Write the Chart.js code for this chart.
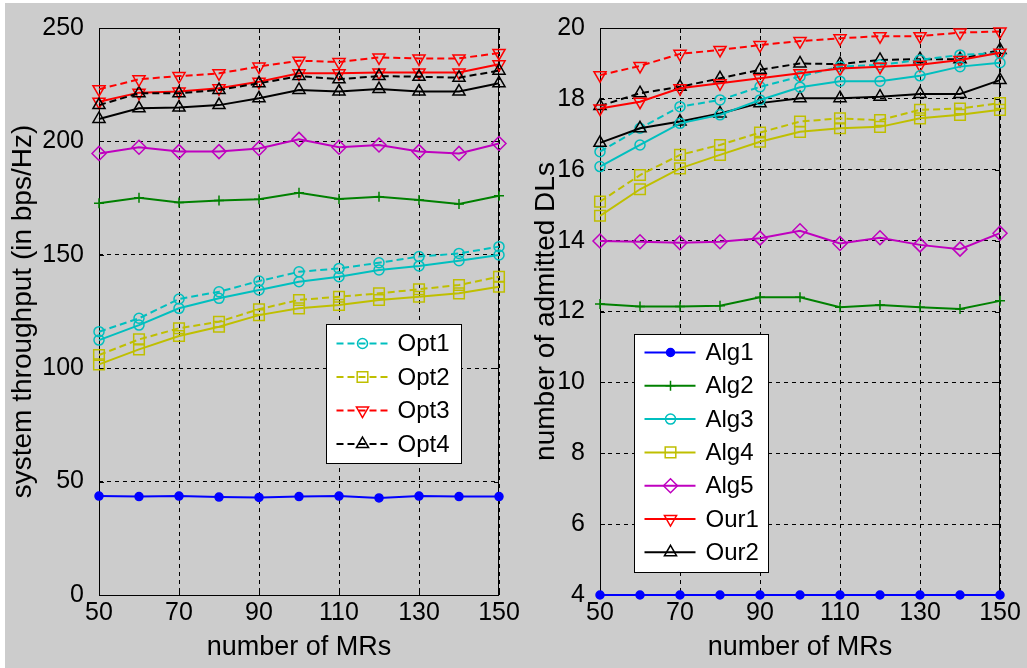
<!DOCTYPE html>
<html>
<head>
<meta charset="utf-8">
<script src="https://cdn.jsdelivr.net/npm/chart.js@4.4.1/dist/chart.umd.min.js"></script>
<style>
  html, body { margin: 0; padding: 0; background: #fff; overflow: hidden; }
  #fig { position: absolute; left: 5px; top: 3px; width: 1022px; height: 665px; background: #cccccc; }
  .panel { position: absolute; top: 0; height: 668px; }
</style>
</head>
<body>
<div id="fig"></div>
<div class="panel" style="left:0;width:540px"><canvas id="thrChart" width="540" height="668"></canvas></div>
<div class="panel" style="left:513px;width:514px"><canvas id="dlChart" width="514" height="668"></canvas></div>
<script>
// x values (number of MRs)
const mrs = [50, 60, 70, 80, 90, 100, 110, 120, 130, 140, 150];

// left panel: system throughput (bps/Hz)
const thrAlg1 = [43.6, 43.4, 43.6, 43.2, 43.0, 43.4, 43.6, 42.8, 43.6, 43.4, 43.4];
const thrAlg2 = [172.7, 175.2, 173.1, 173.9, 174.5, 177.4, 174.6, 175.6, 174.2, 172.4, 176.0];
const thrAlg3 = [112.4, 119.0, 126.4, 130.8, 134.5, 138.1, 140.3, 143.3, 145.1, 147.4, 149.9];
const thrAlg4 = [101.7, 108.3, 114.2, 118.3, 123.4, 126.4, 127.9, 130.1, 131.5, 133.0, 135.9];
const thrAlg5 = [194.7, 197.4, 195.5, 195.5, 196.9, 200.9, 197.4, 198.4, 195.5, 194.7, 199.1];
const thrOur1 = [217.5, 221.5, 222.0, 223.4, 226.3, 230.0, 230.0, 230.4, 230.4, 230.4, 234.0];
const thrOur2 = [209.9, 214.6, 214.9, 216.0, 219.0, 222.7, 222.0, 223.1, 222.0, 222.0, 225.6];
const thrOpt1 = [116.1, 122.0, 130.5, 133.7, 138.4, 142.5, 144.0, 146.5, 149.2, 150.6, 153.6];
const thrOpt2 = [105.8, 112.7, 117.6, 120.5, 126.0, 130.1, 131.5, 133.0, 134.8, 136.7, 140.3];
const thrOpt3 = [223.0, 227.4, 228.8, 230.0, 233.0, 235.6, 235.0, 237.0, 236.6, 236.6, 239.0];
const thrOpt4 = [216.0, 221.2, 221.2, 222.7, 225.6, 228.8, 227.4, 228.8, 228.5, 228.1, 231.2];

// right panel: number of admitted DLs
const dlAlg1 = [4, 4, 4, 4, 4, 4, 4, 4, 4, 4, 4];
const dlAlg2 = [12.21, 12.14, 12.14, 12.16, 12.40, 12.40, 12.12, 12.18, 12.12, 12.07, 12.30];
const dlAlg3 = [16.09, 16.70, 17.31, 17.55, 17.97, 18.33, 18.50, 18.50, 18.65, 18.91, 19.02];
const dlAlg4 = [14.70, 15.45, 16.04, 16.42, 16.79, 17.07, 17.17, 17.21, 17.45, 17.55, 17.69];
const dlAlg5 = [13.99, 13.97, 13.94, 13.97, 14.07, 14.28, 13.92, 14.08, 13.88, 13.76, 14.21];
const dlOur1 = [17.73, 17.92, 18.30, 18.44, 18.58, 18.72, 18.86, 18.91, 18.96, 19.10, 19.30];
const dlOur2 = [16.76, 17.17, 17.36, 17.59, 17.88, 18.02, 18.02, 18.06, 18.14, 18.14, 18.53];
const dlOpt1 = [16.51, 17.17, 17.78, 17.97, 18.34, 18.63, 18.91, 18.96, 19.10, 19.24, 19.29];
const dlOpt2 = [15.10, 15.85, 16.42, 16.70, 17.05, 17.36, 17.45, 17.40, 17.69, 17.73, 17.88];
const dlOpt3 = [18.67, 18.93, 19.27, 19.38, 19.52, 19.63, 19.71, 19.77, 19.77, 19.87, 19.90];
const dlOpt4 = [17.80, 18.16, 18.34, 18.58, 18.82, 19.00, 18.98, 19.10, 19.12, 19.12, 19.38];

// tick labels
const thrTicks = [0, 50, 100, 150, 200, 250];
const dlTicks = [4, 6, 8, 10, 12, 14, 16, 18, 20];
const mrTicks = [50, 70, 90, 110, 130, 150];

const legendLeft = ['Opt1', 'Opt2', 'Opt3', 'Opt4'];
const legendRight = ['Alg1', 'Alg2', 'Alg3', 'Alg4', 'Alg5', 'Our1', 'Our2'];

const FONT = "'Liberation Sans', Arial, sans-serif";

// matlab-ish line specs
const lineSpecs = {
  Alg1: { color: '#0000ff', point: 'circle', r: 4, fill: true },
  Alg2: { color: '#008000', point: 'cross', r: 5 },
  Alg3: { color: '#00bfbf', point: 'circle', r: 5 },
  Alg4: { color: '#bfbf00', point: 'rect', r: 7.5 },
  Alg5: { color: '#bf00bf', point: 'rectRot', r: 7 },
  Our1: { color: '#ff0000', point: 'triangle', r: 7, rot: 180 },
  Our2: { color: '#000000', point: 'triangle', r: 7 },
  Opt1: { color: '#00bfbf', point: 'circle', r: 5, dash: true },
  Opt2: { color: '#bfbf00', point: 'rect', r: 7.5, dash: true },
  Opt3: { color: '#ff0000', point: 'triangle', r: 7, rot: 180, dash: true },
  Opt4: { color: '#000000', point: 'triangle', r: 7, dash: true }
};

const makeDataset = (name, values) => {
  const s = lineSpecs[name];
  return {
    label: name,
    data: mrs.map((x, i) => ({ x: x, y: values[i] })),
    borderColor: s.color,
    borderWidth: 2,
    borderDash: s.dash ? [7, 4] : [],
    pointStyle: s.point,
    pointRadius: s.r,
    pointRotation: s.rot || 0,
    pointBorderColor: s.color,
    pointBackgroundColor: s.fill ? s.color : 'rgba(0,0,0,0)',
    pointBorderWidth: 1.5,
    tension: 0,
    clip: false
  };
};

// box, inward ticks and in-axes legend like a matlab figure
const matlabAxes = (legendNames, box) => ({
  id: 'matlabAxes',
  beforeDatasetsDraw(chart) {
    const { ctx, chartArea: a } = chart;
    ctx.save();
    ctx.strokeStyle = '#000';
    ctx.lineWidth = 1;
    ctx.setLineDash([]);
    ctx.strokeRect(Math.round(a.left) + 0.5, Math.round(a.top) + 0.5,
      Math.round(a.right - a.left) - 1, Math.round(a.bottom - a.top));
    ctx.beginPath();
    chart.scales.x.ticks.forEach(t => {
      const px = Math.round(chart.scales.x.getPixelForValue(t.value)) + 0.5;
      ctx.moveTo(px, a.bottom); ctx.lineTo(px, a.bottom - 5);
      ctx.moveTo(px, a.top); ctx.lineTo(px, a.top + 5);
    });
    chart.scales.y.ticks.forEach(t => {
      const py = Math.round(chart.scales.y.getPixelForValue(t.value)) + 0.5;
      ctx.moveTo(a.left, py); ctx.lineTo(a.left + 5, py);
      ctx.moveTo(a.right, py); ctx.lineTo(a.right - 5, py);
    });
    ctx.stroke();
    ctx.restore();
  },
  afterDraw(chart) {
    const { ctx, chartArea: a } = chart;
    const x0 = Math.round(a.left + box.dx) + 0.5;
    const y0 = Math.round(a.top + box.dy) + 0.5;
    ctx.save();
    ctx.fillStyle = '#fff';
    ctx.fillRect(x0, y0, box.w, box.h);
    ctx.strokeStyle = '#000';
    ctx.lineWidth = 1;
    ctx.strokeRect(x0, y0, box.w, box.h);
    ctx.font = '24px ' + FONT;
    ctx.textBaseline = 'middle';
    legendNames.forEach((name, i) => {
      const s = lineSpecs[name];
      const y = y0 + box.first + i * box.step;
      ctx.strokeStyle = s.color;
      ctx.lineWidth = 2;
      ctx.setLineDash(s.dash ? [7, 4] : []);
      ctx.beginPath();
      ctx.moveTo(x0 + 10, y);
      ctx.lineTo(x0 + 61, y);
      ctx.stroke();
      ctx.setLineDash([]);
      ctx.lineWidth = 1.5;
      ctx.fillStyle = s.fill ? s.color : 'rgba(0,0,0,0)';
      Chart.helpers.drawPoint(ctx, {
        pointStyle: s.point, rotation: s.rot || 0, radius: s.r, borderWidth: 1.5
      }, x0 + 36, y);
      ctx.fillStyle = '#000';
      ctx.fillText(name, x0 + 71, y + 1);
    });
    ctx.restore();
  }
});

const buildOptions = (yMin, yMax, yStep, yTitle, yBoxWidth, titlePad, padRight) => ({
  responsive: false,
  animation: false,
  layout: { padding: { left: 0, top: 28, right: padRight, bottom: 0 } },
  plugins: { legend: { display: false }, tooltip: { enabled: false } },
  scales: {
    x: {
      type: 'linear',
      min: 50,
      max: 150,
      afterBuildTicks: (scale) => { scale.ticks = mrTicks.map(v => ({ value: v })); },
      ticks: { color: '#000', font: { family: FONT, size: 25 }, padding: 3, maxRotation: 0, autoSkip: false },
      grid: { color: '#000', lineWidth: 1, drawTicks: false },
      border: { display: false, dash: [4, 4] },
      title: { display: true, text: 'number of MRs', color: '#000', font: { family: FONT, size: 27 }, padding: { top: 0, bottom: 4 } },
      afterFit: (scale) => { scale.height = 73; scale.paddingLeft = 0; scale.paddingRight = 0; }
    },
    y: {
      type: 'linear',
      min: yMin,
      max: yMax,
      ticks: { stepSize: yStep, color: '#000', font: { family: FONT, size: 25 }, padding: 15 },
      grid: { color: '#000', lineWidth: 1, drawTicks: false },
      border: { display: false, dash: [4, 4] },
      title: { display: true, text: yTitle, color: '#000', font: { family: FONT, size: 28 }, padding: { top: titlePad, bottom: 0 } },
      afterFit: (scale) => { scale.width = yBoxWidth; scale.paddingTop = 0; scale.paddingBottom = 0; }
    }
  }
});

new Chart(document.getElementById('thrChart'), {
  type: 'line',
  data: {
    datasets: [
      makeDataset('Opt1', thrOpt1), makeDataset('Opt2', thrOpt2),
      makeDataset('Opt3', thrOpt3), makeDataset('Opt4', thrOpt4),
      makeDataset('Alg1', thrAlg1), makeDataset('Alg2', thrAlg2),
      makeDataset('Alg3', thrAlg3), makeDataset('Alg4', thrAlg4),
      makeDataset('Alg5', thrAlg5), makeDataset('Our1', thrOur1),
      makeDataset('Our2', thrOur2)
    ]
  },
  options: buildOptions(thrTicks[0], thrTicks[thrTicks.length - 1], 50, 'system throughput (in bps/Hz)', 99, 6, 41),
  plugins: [matlabAxes(legendLeft, { dx: 227, dy: 296, w: 135, h: 139, first: 19, step: 33.5 })]
});

new Chart(document.getElementById('dlChart'), {
  type: 'line',
  data: {
    datasets: [
      makeDataset('Alg1', dlAlg1), makeDataset('Alg2', dlAlg2),
      makeDataset('Alg3', dlAlg3), makeDataset('Alg4', dlAlg4),
      makeDataset('Alg5', dlAlg5), makeDataset('Our1', dlOur1),
      makeDataset('Our2', dlOur2),
      makeDataset('Opt1', dlOpt1), makeDataset('Opt2', dlOpt2),
      makeDataset('Opt3', dlOpt3), makeDataset('Opt4', dlOpt4)
    ]
  },
  options: buildOptions(dlTicks[0], dlTicks[dlTicks.length - 1], 2, 'number of admitted DLs', 87, 16, 27),
  plugins: [matlabAxes(legendRight, { dx: 34, dy: 306, w: 134, h: 238, first: 18, step: 33.3 })]
});
</script>
</body>
</html>
